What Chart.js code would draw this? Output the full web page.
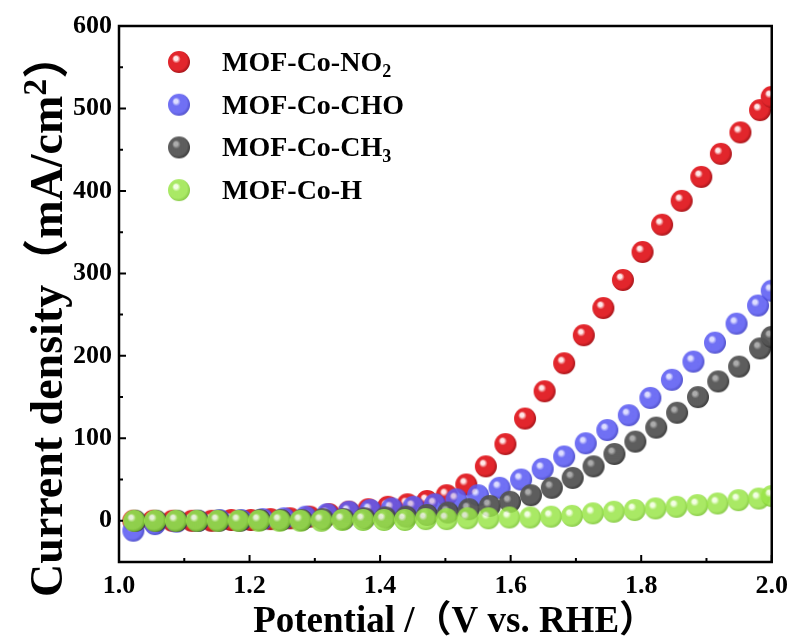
<!DOCTYPE html>
<html>
<head>
<meta charset="utf-8">
<script src="https://cdn.jsdelivr.net/npm/chart.js@4.4.0/dist/chart.umd.min.js"></script>
<style>
  html, body { margin: 0; padding: 0; background: #fff; }
  #wrap { width: 797px; height: 644px; }
</style>
</head>
<body>
<div id="wrap"><canvas id="myChart"></canvas></div>
<script>
// potential (V vs. RHE) and current density (mA/cm2)
const seriesNames = ['MOF-Co-NO2', 'MOF-Co-CHO', 'MOF-Co-CH3', 'MOF-Co-H'];

const potentialNO2 = [1.022, 1.052, 1.082, 1.112, 1.142, 1.172, 1.202, 1.232, 1.262, 1.292, 1.322, 1.352, 1.382, 1.412, 1.442, 1.472, 1.502, 1.532, 1.562, 1.592, 1.622, 1.652, 1.682, 1.712, 1.742, 1.772, 1.802, 1.832, 1.862, 1.892, 1.922, 1.952, 1.982, 2.000];
const currentNO2 = [0, 0, 0, 0, 0, 1, 1, 2, 3, 5, 8, 11, 14, 17, 20, 24, 31, 44, 66, 93, 124, 157, 191, 225, 258, 292, 326, 359, 388, 417, 445, 471, 498, 514];

const potentialCHO = [1.022, 1.055, 1.088, 1.121, 1.154, 1.187, 1.220, 1.253, 1.286, 1.319, 1.352, 1.385, 1.418, 1.451, 1.484, 1.517, 1.550, 1.583, 1.616, 1.649, 1.682, 1.715, 1.748, 1.781, 1.814, 1.847, 1.880, 1.913, 1.946, 1.979, 2.000];
const currentCHO = [-12, -4, -1, 0, 1, 1, 2, 3, 5, 8, 11, 13, 15, 17, 20, 26, 31, 40, 50, 63, 78, 94, 110, 128, 149, 171, 193, 216, 239, 261, 279];

const potentialCH3 = [1.025, 1.057, 1.089, 1.121, 1.153, 1.185, 1.216, 1.248, 1.280, 1.312, 1.344, 1.376, 1.408, 1.440, 1.472, 1.504, 1.536, 1.568, 1.599, 1.631, 1.663, 1.695, 1.727, 1.759, 1.791, 1.823, 1.855, 1.887, 1.918, 1.950, 1.982, 2.000];
const currentCH3 = [0, 0, 0, 0, 0, 0, 1, 1, 1, 2, 2, 3, 4, 5, 7, 10, 14, 18, 23, 31, 40, 52, 66, 81, 96, 113, 131, 150, 169, 187, 209, 223];

const potentialH = [1.023, 1.055, 1.087, 1.119, 1.151, 1.183, 1.214, 1.246, 1.278, 1.310, 1.342, 1.374, 1.406, 1.438, 1.470, 1.502, 1.534, 1.566, 1.598, 1.630, 1.662, 1.694, 1.726, 1.758, 1.790, 1.822, 1.854, 1.886, 1.917, 1.949, 1.980, 2.000];
const currentH = [0, 0, 0, 0, 0, 0, 0, 0, 0, 0, 1, 1, 1, 1, 2, 2, 3, 3, 4, 4, 5, 6, 9, 11, 13, 15, 17, 19, 21, 25, 27, 30];

const xTitle = '  Potential /（V vs. RHE）';
const yTitle = ['Current density', '（', 'mA/cm', '2', '）'];

const serif = "'Liberation Serif', 'Times New Roman', serif";
const cjk = "'Noto Sans CJK SC', sans-serif";

// shaded ball used as point style
function makeBall(light, base, edge, alpha) {
  const r = 11;
  const c = document.createElement('canvas');
  c.width = 24;
  c.height = 24;
  const g = c.getContext('2d');
  const grad = g.createRadialGradient(8.5, 8, 0, 11, 11, r + 1);
  grad.addColorStop(0, light);
  grad.addColorStop(0.16, light);
  grad.addColorStop(0.36, base);
  grad.addColorStop(0.8, base);
  grad.addColorStop(1, edge);
  g.globalAlpha = alpha;
  g.fillStyle = grad;
  g.beginPath();
  g.arc(12, 12, r, 0, Math.PI * 2);
  g.fill();
  return c;
}

const balls = [
  makeBall('#ffe8e8', '#e2262c', '#a8151a', 1),
  makeBall('#d8d8ff', '#5c5cf2', '#3a3ac4', 0.88),
  makeBall('#a8a8a8', '#555555', '#333333', 0.95),
  makeBall('#f2ffe0', '#9be64a', '#76c22c', 0.85)
];

function toPoints(xs, ys) {
  return xs.map((x, i) => ({ x: x, y: ys[i] }));
}

const datasets = [
  { label: seriesNames[0], data: toPoints(potentialNO2, currentNO2), pointStyle: balls[0], order: 4 },
  { label: seriesNames[1], data: toPoints(potentialCHO, currentCHO), pointStyle: balls[1], order: 3 },
  { label: seriesNames[2], data: toPoints(potentialCH3, currentCH3), pointStyle: balls[2], order: 2 },
  { label: seriesNames[3], data: toPoints(potentialH, currentH), pointStyle: balls[3], order: 1 }
].map(d => Object.assign(d, { pointRadius: 11, pointHoverRadius: 11, showLine: false, clip: 0 }));

// inward ticks, frame, legend and y title
const decorations = {
  id: 'decorations',
  afterDatasetsDraw(chart) {
    const { ctx, chartArea: a, scales: { x, y } } = chart;
    ctx.save();
    ctx.strokeStyle = '#000';
    ctx.lineWidth = 2;
    ctx.beginPath();
    x.ticks.forEach(t => {
      const px = x.getPixelForValue(t.value);
      ctx.moveTo(px, a.bottom);
      ctx.lineTo(px, a.bottom - (t.label ? 7 : 4));
    });
    y.ticks.forEach(t => {
      const py = y.getPixelForValue(t.value);
      ctx.moveTo(a.left, py);
      ctx.lineTo(a.left + (t.label ? 7 : 4), py);
    });
    ctx.stroke();
    ctx.lineWidth = 2.5;
    ctx.strokeRect(a.left, a.top, a.right - a.left, a.bottom - a.top);

    // legend
    ctx.fillStyle = '#000';
    ctx.textBaseline = 'alphabetic';
    ctx.textAlign = 'left';
    seriesNames.forEach((name, i) => {
      const cy = a.top + 36 + i * 42.7;
      ctx.drawImage(balls[i], a.left + 60 - 12, cy - 12);
      const m = name.match(/^(.*?)(\d?)$/);
      ctx.font = 'bold 28px ' + serif;
      ctx.fillText(m[1], a.left + 103, cy + 9);
      if (m[2]) {
        const w = ctx.measureText(m[1]).width;
        ctx.font = 'bold 18px ' + serif;
        ctx.fillText(m[2], a.left + 103 + w, cy + 15);
      }
    });

    // y axis title
    ctx.translate(62, 597);
    ctx.rotate(-Math.PI / 2);
    let pos = 0;
    yTitle.forEach((part, i) => {
      const isParen = part === '（' || part === '）';
      const isSup = i === 3;
      ctx.font = isParen ? 'bold 46px ' + cjk : (isSup ? 'bold 34px ' : 'bold 46px ') + serif;
      ctx.fillText(part, pos, isSup ? -16 : 0);
      pos += ctx.measureText(part).width;
    });
    ctx.restore();
  }
};

const tickFont = { family: serif, size: 26, weight: 'bold' };

new Chart(document.getElementById('myChart'), {
  type: 'scatter',
  data: { datasets: datasets },
  options: {
    responsive: true,
    maintainAspectRatio: false,
    animation: false,
    events: [],
    layout: { padding: { left: 0, right: 20, top: 26, bottom: 0 } },
    plugins: {
      legend: { display: false },
      tooltip: { enabled: false }
    },
    scales: {
      x: {
        type: 'linear',
        min: 1.0,
        max: 2.0,
        grid: { display: false, drawTicks: false },
        border: { display: false },
        ticks: {
          stepSize: 0.1,
          autoSkip: false,
          maxRotation: 0,
          padding: 9,
          color: '#000',
          font: tickFont,
          callback: v => Math.round(v * 10) % 2 === 0 ? v.toFixed(1) : ''
        },
        title: {
          display: true,
          text: xTitle,
          color: '#000',
          font: { family: "'Liberation Serif', " + cjk, size: 37, weight: 'bold', lineHeight: 1 },
          padding: { top: 0, bottom: 3 }
        },
        afterFit: s => { s.height = 82; }
      },
      y: {
        min: -50,
        max: 600,
        grid: { display: false, drawTicks: false },
        border: { display: false },
        ticks: {
          stepSize: 50,
          padding: 7,
          color: '#000',
          font: tickFont,
          callback: v => v % 100 === 0 ? v : ''
        },
        afterFit: s => { s.width = 119; }
      }
    }
  },
  plugins: [decorations]
});
</script>
</body>
</html>
